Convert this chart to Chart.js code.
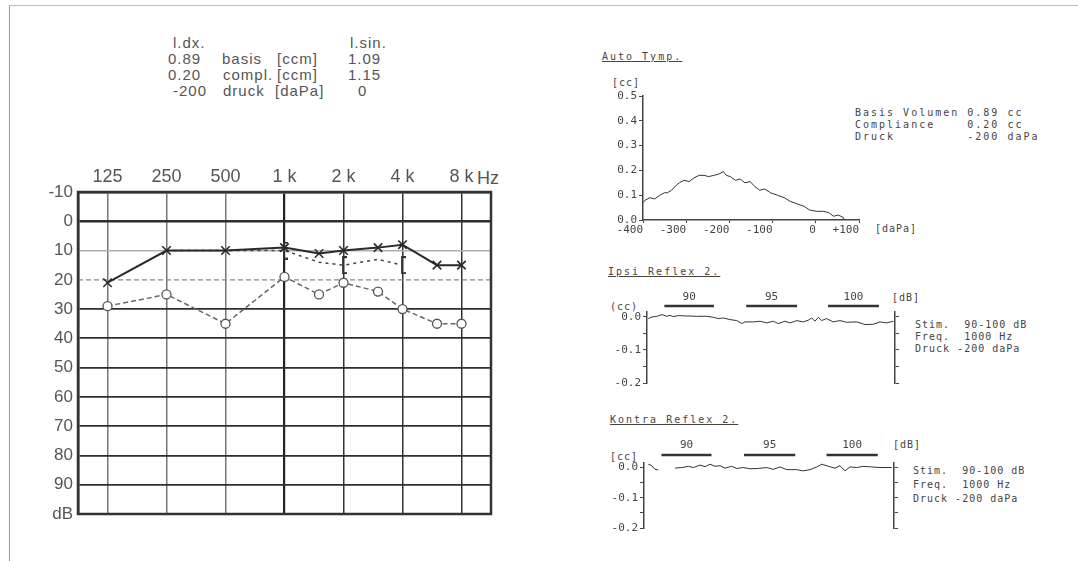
<!DOCTYPE html>
<html lang="de">
<head>
<meta charset="UTF-8">
<meta name="viewport" content="width=device-width, initial-scale=1.0">
<title>Audiogramm</title>
<script src="https://cdn.jsdelivr.net/npm/chart.js"></script>
<style>
  body { margin: 0; background: #fff; }
  #page { position: relative; width: 1078px; height: 561px; overflow: hidden; }
  #page canvas { position: absolute; }
  .frame { position: absolute; left: 9px; top: 5px; width: 1200px; height: 600px; border-left: 1px solid #999; border-top: 1px solid #bbb; }
  .t { position: absolute; white-space: pre; }
  .sans { font: 15px/16px "Liberation Sans", Arial, sans-serif; color: #555; letter-spacing: 1px; }
  .big { font: 18px/20px "Liberation Sans", Arial, sans-serif; color: #555; }
  .mono { font: 10px/12px "DejaVu Sans Mono", monospace; color: #444; letter-spacing: 2px; }
  .mono.n { letter-spacing: 1px; }
  .u { text-decoration: underline; }
</style>
</head>
<body>
<div id="page">
  <div class="frame"></div>

  <!-- Kopfdaten -->
  <div class="t sans" style="left:173px;top:35px">l.dx.</div>
  <div class="t sans" style="left:350px;top:35px">l.sin.</div>
  <div class="t sans" style="left:168px;top:51px">0.89</div>
  <div class="t sans" style="left:222px;top:51px">basis</div>
  <div class="t sans" style="left:277px;top:51px">[ccm]</div>
  <div class="t sans" style="left:348px;top:51px">1.09</div>
  <div class="t sans" style="left:168px;top:67px">0.20</div>
  <div class="t sans" style="left:223px;top:67px">compl.</div>
  <div class="t sans" style="left:277px;top:67px">[ccm]</div>
  <div class="t sans" style="left:348px;top:67px">1.15</div>
  <div class="t sans" style="left:173px;top:83px">-200</div>
  <div class="t sans" style="left:223px;top:83px">druck</div>
  <div class="t sans" style="left:275px;top:83px">[daPa]</div>
  <div class="t sans" style="left:358px;top:83px">0</div>
  <div class="t big" style="left:477px;top:168px">Hz</div>

  <canvas id="audio" width="540" height="390" style="left:0;top:150px"></canvas>

  <!-- Tympanogramm -->
  <div class="t mono u" style="left:602px;top:51px">Auto Tymp.</div>
  <div class="t mono n" style="left:612px;top:77px">[cc]</div>
  <div class="t mono" style="left:855px;top:107px">Basis Volumen 0.89 cc
Compliance    0.20 cc
Druck         -200 daPa</div>
  <div class="t mono n" style="left:875px;top:223px">[daPa]</div>
  <canvas id="tymp" width="320" height="185" style="left:590px;top:60px"></canvas>

  <!-- Ipsi -->
  <div class="t mono u" style="left:608px;top:266px">Ipsi Reflex 2.</div>
  <div class="t mono n" style="left:610px;top:301px">(cc)</div>
  <div class="t mono n" style="left:892px;top:292px">[dB]</div>
  <div class="t mono n" style="left:915px;top:319px">Stim.  90-100 dB
Freq.  1000 Hz
Druck -200 daPa</div>
  <canvas id="ipsi" width="320" height="110" style="left:590px;top:290px"></canvas>

  <!-- Kontra -->
  <div class="t mono u" style="left:610px;top:414px">Kontra Reflex 2.</div>
  <div class="t mono n" style="left:610px;top:451px">[cc]</div>
  <div class="t mono n" style="left:893px;top:439px">[dB]</div>
  <div class="t mono n" style="left:913px;top:464px;line-height:14px">Stim.  90-100 dB
Freq.  1000 Hz
Druck -200 daPa</div>
  <canvas id="kontra" width="320" height="100" style="left:590px;top:440px"></canvas>
</div>

<script>
// --- audiogram data ---
const freqs = [125, 250, 500, 1000, 1500, 2000, 3000, 4000, 6000, 8000];
const airCross = [21, 10, 10, 9, 11, 10, 9, 8, 15, 15];
const airCircle = [29, 25, 35, 19, 25, 21, 24, 30, 35, 35];
const boneFreqs = [250, 500, 1000, 1500, 2000, 3000, 4000];
const boneLevels = [10, 10, 10, 14, 15, 13, 15];
const boneMarks = [0, 0, 6, 0, 6, 0, 6];
const octaveLabels = ['125', '250', '500', '1 k', '2 k', '4 k', '8 k'];

// --- tympanogram data (daPa / cc) ---
const tympPressure = [-400, -395, -384, -373, -361, -350, -343, -334, -323, -316, -305, -293, -282, -270, -259, -248,
  -236, -225, -214, -207, -198, -186, -175, -164, -152, -141, -130, -118, -105, -89, -73, -59, -43, -27, -14, 2, 18,
  30, 41, 52, 64, 66];
const tympVolume = [0.07, 0.08, 0.09, 0.085, 0.10, 0.11, 0.11, 0.12, 0.14, 0.15, 0.16, 0.155, 0.17, 0.18, 0.18, 0.175,
  0.18, 0.185, 0.195, 0.18, 0.175, 0.16, 0.165, 0.15, 0.155, 0.135, 0.12, 0.125, 0.11, 0.10, 0.09, 0.075, 0.065, 0.055,
  0.04, 0.035, 0.035, 0.03, 0.015, 0.02, 0.01, 0.0];

// --- reflex traces (time 0..100 / cc) ---
const stimLevels = ['90', '95', '100'];
const stimStart = [7, 40, 73];
const stimEnd = [27, 60.5, 93.5];
const ipsiTime = [0.5, 2, 4, 6, 8, 9.3, 10.6, 12.6, 16, 20, 24, 26.7, 28.8, 30.8, 33.5, 36.2, 38.2, 39.5, 42.9, 45.6,
  48.3, 50.9, 52.9, 55.6, 57.7, 60.4, 63, 65, 66.4, 67.7, 69.1, 70.4, 72.4, 75.1, 77.8, 80.5, 84.6, 87.9, 91.3, 94,
  96.6, 99.3];
const ipsiValue = [-0.005, 0, 0.002, 0.007, 0.002, 0.005, 0.001, 0.004, 0.003, 0.002, 0.002, -0.001, -0.005, -0.003,
  -0.008, -0.011, -0.02, -0.015, -0.015, -0.013, -0.018, -0.013, -0.02, -0.013, -0.018, -0.011, -0.015, -0.01, -0.003,
  -0.013, -0.001, -0.011, -0.005, -0.015, -0.011, -0.016, -0.015, -0.023, -0.022, -0.015, -0.018, -0.013];
const kontraTime = [1.7, 3.1, 4.4, 5.7, 8, 12.4, 15.1, 17.7, 19.7, 22.4, 24.4, 26.4, 28.4, 30.4, 32.4, 35.1, 37.1,
  39.7, 42.4, 45.7, 49.1, 51.7, 54.4, 57.1, 61.1, 63.7, 66.4, 69.1, 71.1, 73.7, 76.4, 78.4, 80.4, 82.4, 85.1, 87.7,
  91.1, 94.4, 99.1];
const kontraValue = [0.011, 0.006, -0.006, -0.008, null, -0.002, 0, 0.004, 0, 0.008, 0.003, 0.011, 0.004, 0.006,
  -0.002, 0.004, -0.003, 0, -0.004, -0.003, 0, -0.006, 0.002, -0.007, -0.007, -0.011, -0.007, 0.002, 0.011, 0.004,
  -0.002, 0.006, -0.011, 0.002, 0, 0.004, 0.002, 0, 0];

Chart.defaults.animation = false;
Chart.defaults.font.family = '"Liberation Sans", Arial, sans-serif';
Chart.defaults.color = '#555';
Chart.defaults.plugins.legend.display = false;
Chart.defaults.plugins.tooltip.enabled = false;

const octave = f => Math.log2(f / 125);
const pts = (xs, ys, fx) => xs.map((x, i) => ({ x: fx ? fx(x) : x, y: ys[i] }));

// "[" marker for masked bone conduction
function bracketMark() {
  const c = document.createElement('canvas');
  c.width = 9; c.height = 18;
  const g = c.getContext('2d');
  g.strokeStyle = '#333'; g.lineWidth = 1.8;
  g.beginPath(); g.moveTo(8, 1); g.lineTo(4, 1); g.lineTo(4, 17); g.lineTo(8, 17); g.stroke();
  return c;
}

const audioFrame = {
  id: 'audioFrame',
  beforeDatasetsDraw(chart) {
    const { ctx, chartArea: a, scales } = chart;
    const y20 = scales.y.getPixelForValue(20);
    ctx.save();
    ctx.strokeStyle = '#888'; ctx.lineWidth = 1.2; ctx.setLineDash([5, 3]);
    ctx.beginPath(); ctx.moveTo(a.left, y20); ctx.lineTo(a.right, y20); ctx.stroke();
    ctx.setLineDash([]);
    ctx.strokeStyle = '#333'; ctx.lineWidth = 2.5;
    ctx.strokeRect(a.left, a.top, a.right - a.left, a.bottom - a.top);
    ctx.restore();
  }
};

new Chart(document.getElementById('audio'), {
  type: 'line',
  data: {
    datasets: [
      {
        data: pts(freqs, airCircle, octave),
        borderColor: '#666', borderWidth: 1.5, borderDash: [5, 3],
        pointStyle: 'circle', pointRadius: 4.5, pointBorderColor: '#555', pointBackgroundColor: '#fff', pointBorderWidth: 1.3
      },
      {
        data: pts(freqs, airCross, octave),
        borderColor: '#2a2a2a', borderWidth: 2,
        pointStyle: 'crossRot', pointRadius: 6, pointBorderColor: '#2a2a2a', pointBorderWidth: 1.6
      },
      {
        data: pts(boneFreqs, boneLevels, octave),
        borderColor: '#444', borderWidth: 1.5, borderDash: [3, 4],
        pointStyle: bracketMark(), pointRadius: boneMarks
      }
    ]
  },
  options: {
    responsive: false,
    layout: { padding: { left: 0, top: 0, right: 49, bottom: 26 } },
    scales: {
      x: {
        type: 'linear', position: 'top', min: -0.5, max: 6.5,
        afterBuildTicks: s => { s.ticks = octaveLabels.map((_, i) => ({ value: i })); },
        afterFit: s => { s.height = 42; },
        ticks: { callback: v => octaveLabels[v], font: { size: 18 }, padding: 4, maxRotation: 0, autoSkip: false },
        grid: {
          drawTicks: false,
          color: c => c.tick.value === 3 ? '#222' : c.tick.value < 3 ? '#777' : '#333',
          lineWidth: c => c.tick.value === 3 ? 2.2 : 1.5
        },
        border: { color: '#333', width: 2.5 }
      },
      y: {
        reverse: true, min: -10, max: 100,
        afterFit: s => { s.width = 78; },
        ticks: { stepSize: 10, callback: v => v === 100 ? 'dB' : v, font: { size: 17 }, padding: 5 },
        grid: {
          drawTicks: false,
          color: c => c.tick.value === 10 ? '#b0b0b0' : c.tick.value === 20 ? 'rgba(0,0,0,0)' : '#2e2e2e',
          lineWidth: c => c.tick.value === 0 ? 2.6 : c.tick.value === 10 ? 1.5 : 1.8
        },
        border: { color: '#333', width: 2.5 }
      }
    }
  },
  plugins: [audioFrame]
});

// --- tympanogram ---
const monoFont = { family: '"DejaVu Sans Mono", monospace', size: 11 };

new Chart(document.getElementById('tymp'), {
  type: 'line',
  data: {
    datasets: [{
      data: pts(tympPressure, tympVolume),
      borderColor: '#333', borderWidth: 1, pointRadius: 0
    }]
  },
  options: {
    responsive: false,
    layout: { padding: { left: 0, top: 36, right: 51, bottom: 0 } },
    scales: {
      x: {
        type: 'linear', min: -400, max: 100,
        afterFit: s => { s.height = 25; },
        ticks: { stepSize: 100, align: 'end', padding: 1, color: '#444', font: monoFont,
          callback: v => v > 0 ? '+' + v : String(v) },
        grid: { drawOnChartArea: false, tickLength: 3, color: '#444' },
        border: { color: '#444', width: 1.5 }
      },
      y: {
        min: 0, max: 0.5,
        afterFit: s => { s.width = 53; },
        ticks: { stepSize: 0.1, padding: 2, color: '#444', font: monoFont, callback: v => v.toFixed(1) },
        grid: { drawOnChartArea: false, tickLength: 4, color: '#444' },
        border: { color: '#444', width: 1.5 }
      }
    }
  }
});

// --- reflexes ---
const stimBars = {
  id: 'stimBars',
  afterDraw(chart, args, opts) {
    const { ctx, chartArea: a, scales } = chart;
    ctx.save();
    ctx.fillStyle = '#444'; ctx.strokeStyle = '#333'; ctx.lineWidth = 2.5;
    ctx.font = '11px "DejaVu Sans Mono", monospace';
    ctx.textAlign = 'center'; ctx.textBaseline = 'middle';
    stimLevels.forEach((lvl, i) => {
      const x0 = scales.x.getPixelForValue(stimStart[i]);
      const x1 = scales.x.getPixelForValue(stimEnd[i]);
      ctx.beginPath(); ctx.moveTo(x0, a.top - opts.bar); ctx.lineTo(x1, a.top - opts.bar); ctx.stroke();
      ctx.fillText(lvl, (x0 + x1) / 2, a.top - opts.label);
    });
    ctx.restore();
  }
};

function reflexChart(id, times, values, pad, barOff, labelOff) {
  const tenth = v => Math.abs(v * 10 - Math.round(v * 10)) < 1e-6;
  const yTicks = s => { s.ticks = [-0.2, -0.15, -0.1, -0.05, 0].map(value => ({ value })); };
  return new Chart(document.getElementById(id), {
    type: 'line',
    data: {
      datasets: [{
        data: pts(times, values),
        borderColor: '#333', borderWidth: 1, pointRadius: 0, spanGaps: false
      }]
    },
    options: {
      responsive: false,
      layout: { padding: pad },
      plugins: { stimBars: { bar: barOff, label: labelOff } },
      scales: {
        x: { type: 'linear', min: 0, max: 100, display: false },
        y: {
          min: -0.2, max: 0.015,
          afterBuildTicks: yTicks,
          afterFit: s => { s.width = pad.axis; },
          ticks: { padding: 2, color: '#444', font: monoFont,
            callback: v => tenth(v) ? v.toFixed(1) : '' },
          grid: { drawOnChartArea: false, tickLength: 4, color: '#444' },
          border: { color: '#444', width: 1.5 }
        },
        y2: {
          position: 'right', min: -0.2, max: 0.015,
          afterBuildTicks: yTicks,
          afterFit: s => { s.width = 5; },
          ticks: { display: false },
          grid: { drawOnChartArea: false, tickLength: 4, color: '#444' },
          border: { color: '#444', width: 1.5 }
        }
      }
    },
    plugins: [stimBars]
  });
}

reflexChart('ipsi', ipsiTime, ipsiValue, { left: 0, top: 22, right: 10, bottom: 17, axis: 57 }, 6, 15);
reflexChart('kontra', kontraTime, kontraValue, { left: 0, top: 23, right: 11, bottom: 12, axis: 54 }, 8, 18);
</script>
</body>
</html>
